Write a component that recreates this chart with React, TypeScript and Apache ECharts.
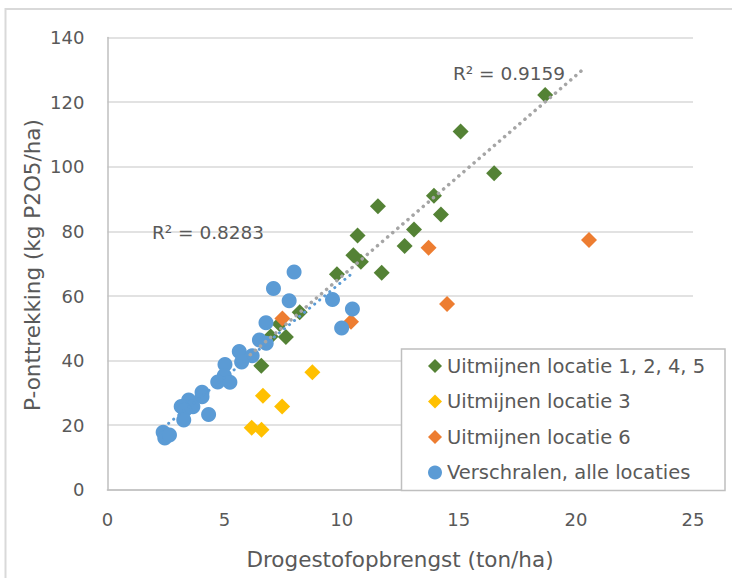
import React, { useEffect, useRef } from "react";
import * as echarts from "echarts";

const seriesNames = [
  "Uitmijnen locatie 1, 2, 4, 5",
  "Uitmijnen locatie 3",
  "Uitmijnen locatie 6",
  "Verschralen, alle locaties",
];

const greenPoints: number[][] = [
  [18.69, 122.2], [15.08, 110.9], [16.51, 98.0], [13.94, 91.0], [14.24, 85.2],
  [11.55, 87.8], [13.09, 80.6], [10.68, 78.7], [12.69, 75.5], [10.5, 72.6],
  [10.82, 70.6], [11.71, 67.2], [9.8, 66.7], [8.21, 55.0], [7.35, 51.3],
  [6.97, 47.5], [7.62, 47.3], [6.57, 38.4],
];

const yellowPoints: number[][] = [
  [8.75, 36.4], [6.64, 29.1], [7.46, 25.8], [6.16, 19.2], [6.58, 18.6],
];

const orangePoints: number[][] = [
  [20.56, 77.3], [13.71, 74.9], [14.5, 57.5], [10.4, 52.0], [7.47, 53.0],
];

const bluePoints: number[][] = [
  [7.97, 67.4], [7.09, 62.3], [7.76, 58.5], [9.61, 58.9], [10.46, 56.0],
  [10.0, 50.1], [6.77, 51.7], [6.49, 46.4], [6.78, 45.4], [5.63, 42.8],
  [6.18, 41.5], [5.73, 39.6], [5.02, 38.8], [4.99, 35.4], [4.71, 33.4],
  [5.23, 33.3], [4.04, 30.2], [4.04, 28.8], [3.47, 27.8], [3.65, 25.7],
  [3.15, 25.8], [3.3, 24.6], [4.32, 23.3], [3.26, 21.6], [2.38, 17.8],
  [2.45, 16.0], [2.65, 17.0],
];

const greenTrendX = [6.1, 20.36];
const greenTrendY = [41.8, 130.5];
const blueTrendX = [2.4, 10.45];
const blueTrendY = [19.3, 67.0];

const r2Labels = ["R² = 0.9159", "R² = 0.8283"];
const xTitle = "Drogestofopbrengst (ton/ha)";
const yTitle = "P-onttrekking (kg P2O5/ha)";

const colors = ["#548235", "#FFC000", "#ED7D31", "#5B9BD5"];
const FONT = "'DejaVu Sans'";
const TXT = "#595959";

export default function App() {
  const ref = useRef<HTMLDivElement>(null);

  useEffect(() => {
    if (!ref.current) return;
    const chart = echarts.init(ref.current, null, { renderer: "svg" });
    const zip = (xs: number[], ys: number[]) => xs.map((x, i) => [x, ys[i]]);

    chart.setOption({
      animation: false,
      backgroundColor: "#ffffff",
      textStyle: { fontFamily: FONT },
      grid: { left: 107.4, right: 39, top: 37.6, bottom: 88.2, containLabel: false },
      xAxis: {
        type: "value",
        min: 0,
        max: 25,
        interval: 5,
        axisLine: { show: true, lineStyle: { color: "#bfbfbf", width: 1.5 } },
        axisTick: { show: false },
        splitLine: { show: false },
        axisLabel: { color: TXT, fontSize: 18, fontFamily: FONT, margin: 21 },
      },
      yAxis: {
        type: "value",
        min: 0,
        max: 140,
        interval: 20,
        axisLine: { show: true, lineStyle: { color: "#bfbfbf", width: 1.5 } },
        axisTick: { show: false },
        splitLine: { show: true, lineStyle: { color: "#d9d9d9", width: 1.5 } },
        axisLabel: { color: TXT, fontSize: 18, fontFamily: FONT, margin: 23 },
      },
      legend: {
        orient: "vertical",
        left: 402,
        top: 349,
        padding: [7, 20, 8, 26],
        itemGap: 15.5,
        itemWidth: 14,
        itemHeight: 14,
        borderWidth: 0,
        textStyle: { color: TXT, fontSize: 19.5, fontFamily: FONT, lineHeight: 20 },
        data: [
          { name: seriesNames[0], icon: "diamond" },
          { name: seriesNames[1], icon: "diamond" },
          { name: seriesNames[2], icon: "diamond" },
          { name: seriesNames[3], icon: "circle" },
        ],
      },
      graphic: [
        {
          type: "rect",
          z: 3,
          shape: { x: 401.5, y: 349, width: 323.5, height: 141.5 },
          style: { fill: "#ffffff", stroke: "#bfbfbf", lineWidth: 1.5 },
        },
        {
          type: "rect",
          z: 5,
          shape: { x: 5.5, y: 9, width: 760, height: 620 },
          style: { fill: "none", stroke: "#d9d9d9", lineWidth: 2 },
        },
        {
          type: "text",
          z: 5,
          x: 509,
          y: 73,
          style: { text: r2Labels[0], fill: TXT, font: `18.5px ${FONT}`, align: "center", verticalAlign: "middle" },
        },
        {
          type: "text",
          z: 5,
          x: 208,
          y: 232,
          style: { text: r2Labels[1], fill: TXT, font: `18.5px ${FONT}`, align: "center", verticalAlign: "middle" },
        },
        {
          type: "text",
          z: 5,
          x: 400,
          y: 559,
          style: { text: xTitle, fill: TXT, font: `21.5px ${FONT}`, align: "center", verticalAlign: "middle" },
        },
        {
          type: "text",
          z: 5,
          x: 32,
          y: 265,
          rotation: Math.PI / 2,
          style: { text: yTitle, fill: TXT, font: `21.5px ${FONT}`, align: "center", verticalAlign: "middle" },
        },
      ],
      series: [
        {
          name: seriesNames[0],
          type: "scatter",
          symbol: "diamond",
          symbolSize: 16,
          itemStyle: { color: colors[0], opacity: 1 },
          data: greenPoints,
          z: 2,
        },
        {
          name: seriesNames[1],
          type: "scatter",
          symbol: "diamond",
          symbolSize: 16,
          itemStyle: { color: colors[1], opacity: 1 },
          data: yellowPoints,
          z: 2,
        },
        {
          name: seriesNames[2],
          type: "scatter",
          symbol: "diamond",
          symbolSize: 16,
          itemStyle: { color: colors[2], opacity: 1 },
          data: orangePoints,
          z: 2,
        },
        {
          name: seriesNames[3],
          type: "scatter",
          symbol: "circle",
          symbolSize: 15,
          itemStyle: { color: colors[3], opacity: 1 },
          data: bluePoints,
          z: 2,
        },
        {
          name: "trend-green",
          type: "line",
          data: zip(greenTrendX, greenTrendY),
          showSymbol: false,
          symbol: "none",
          silent: true,
          z: 3,
          lineStyle: { color: "#A5A5A5", width: 3.5, type: [0.1, 6.6], cap: "round" },
        },
        {
          name: "trend-blue",
          type: "line",
          data: zip(blueTrendX, blueTrendY),
          showSymbol: false,
          symbol: "none",
          silent: true,
          z: 3,
          lineStyle: { color: "#5B9BD5", width: 3, type: [0.1, 6.4], cap: "round" },
        },
      ],
    });

    return () => chart.dispose();
  }, []);

  return (
    <div
      ref={ref}
      style={{ position: "fixed", left: 0, top: 0, width: 732, height: 578, background: "#fff" }}
    />
  );
}
